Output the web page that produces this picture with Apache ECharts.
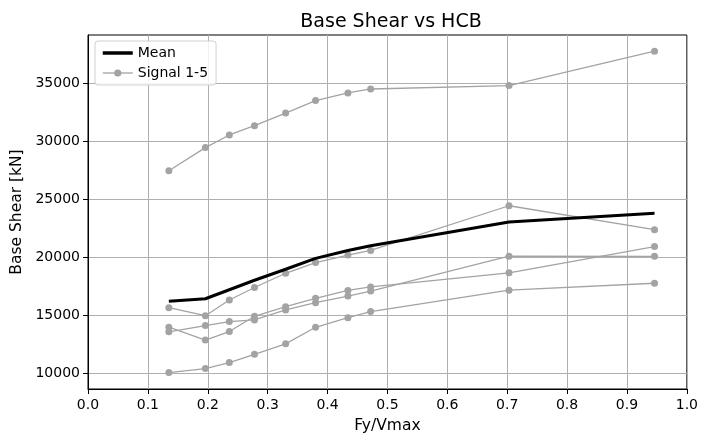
<!DOCTYPE html>
<html>
<head>
<meta charset="utf-8">
<script src="https://cdn.jsdelivr.net/npm/echarts@6/dist/echarts.min.js"></script>
<style>html,body{margin:0;padding:0;background:#fff;}#c{width:701px;height:439px;}</style>
</head>
<body>
<div id="c"></div>
<script>
// x positions (Fy/Vmax)
var xValues = [0.135, 0.196, 0.236, 0.278, 0.330, 0.380, 0.434, 0.472, 0.703, 0.946];
// five signals
var signal1 = [27450, 29450, 30540, 31340, 32430, 33510, 34170, 34510, 34800, 37770];
var signal2 = [15630, 14940, 16290, 17370, 18600, 19520, 20170, 20570, 24430, 22360];
var signal3 = [13550, 14090, 14430, 14570, 15440, 16060, 16630, 17060, 20080, 20060];
var signal4 = [13950, 12830, 13570, 14890, 15720, 16440, 17120, 17420, 18640, 20910];
var signal5 = [10030, 10370, 10890, 11600, 12510, 13940, 14770, 15290, 17140, 17740];
// mean line
var meanValues = [16180, 16400, 17180, 18000, 18950, 19890, 20570, 20980, 23030, 23780];
// ticks
var xTicks = [0, 0.1, 0.2, 0.3, 0.4, 0.5, 0.6, 0.7, 0.8, 0.9, 1.0];
var yTicks = [10000, 15000, 20000, 25000, 30000, 35000];

var FONT = '"DejaVu Sans", sans-serif';
var GRAY = '#a3a3a3';
function pairs(ys) { return xValues.map(function (x, i) { return [x, ys[i]]; }); }

var signals = [signal1, signal2, signal3, signal4, signal5];
var series = signals.map(function (s) {
  return {
    name: 'Signal 1-5', type: 'line', data: pairs(s),
    symbol: 'circle', symbolSize: 7,
    lineStyle: { color: GRAY, width: 1.3 },
    itemStyle: { color: GRAY },
    z: 2, animation: false, emphasis: { disabled: true }
  };
});
series.push({
  name: 'Mean', type: 'line', data: pairs(meanValues),
  symbol: 'none', lineStyle: { color: '#000', width: 3 }, itemStyle: { color: '#000' },
  z: 3, animation: false, emphasis: { disabled: true }
});

var chart = echarts.init(document.getElementById('c'), null, { renderer: 'canvas' });
chart.setOption({
  animation: false,
  backgroundColor: '#fff',
  textStyle: { fontFamily: FONT },
  title: {
    text: 'Base Shear vs HCB', left: 386, top: 8, textAlign: 'center',
    textStyle: { fontFamily: FONT, fontSize: 19, fontWeight: 'normal', color: '#000' }
  },
  legend: {
    orient: 'vertical', left: 95, top: 41,
    data: [
      { name: 'Mean', itemStyle: { opacity: 0 }, lineStyle: { width: 3.5, color: '#000' } },
      { name: 'Signal 1-5', lineStyle: { width: 1.3, color: GRAY } }
    ],
    backgroundColor: 'rgba(255,255,255,0.85)', borderColor: '#d0d0d0', borderWidth: 1, borderRadius: 3,
    padding: [4, 8, 4, 6], itemGap: 4, itemWidth: 30, itemHeight: 9,
    textStyle: { fontFamily: FONT, fontSize: 14, color: '#000', lineHeight: 16 }
  },
  grid: { left: 88, right: 11, top: 35, bottom: 45, show: true, borderColor: '#000', borderWidth: 1, backgroundColor: 'transparent' },
  xAxis: {
    type: 'value', min: 0, max: 1, interval: 0.1,
    name: 'Fy/Vmax', nameLocation: 'middle', nameGap: 29,
    nameTextStyle: { fontFamily: FONT, fontSize: 15.5, color: '#000' },
    axisLine: { show: true, lineStyle: { color: '#000', width: 1 } },
    axisTick: { show: true, length: 5, lineStyle: { color: '#000', width: 1 }, customValues: xTicks },
    axisLabel: { fontFamily: FONT, fontSize: 14, color: '#000', margin: 9, customValues: xTicks,
      formatter: function (v) { return v.toFixed(1); } },
    splitLine: { show: true, lineStyle: { color: '#b0b0b0', width: 1 } }
  },
  yAxis: {
    type: 'value', min: 8610, max: 39170,
    name: 'Base Shear [kN]', nameLocation: 'middle', nameGap: 54,
    nameTextStyle: { fontFamily: FONT, fontSize: 15.5, color: '#000' },
    axisLine: { show: true, lineStyle: { color: '#000', width: 1 } },
    axisTick: { show: true, length: 5, lineStyle: { color: '#000', width: 1 }, customValues: yTicks },
    axisLabel: { fontFamily: FONT, fontSize: 14, color: '#000', margin: 8, customValues: yTicks,
      formatter: function (v) { return String(v); } },
    splitLine: { show: true, lineStyle: { color: '#b0b0b0', width: 1 } }
  },
  series: series
});
</script>
</body>
</html>
